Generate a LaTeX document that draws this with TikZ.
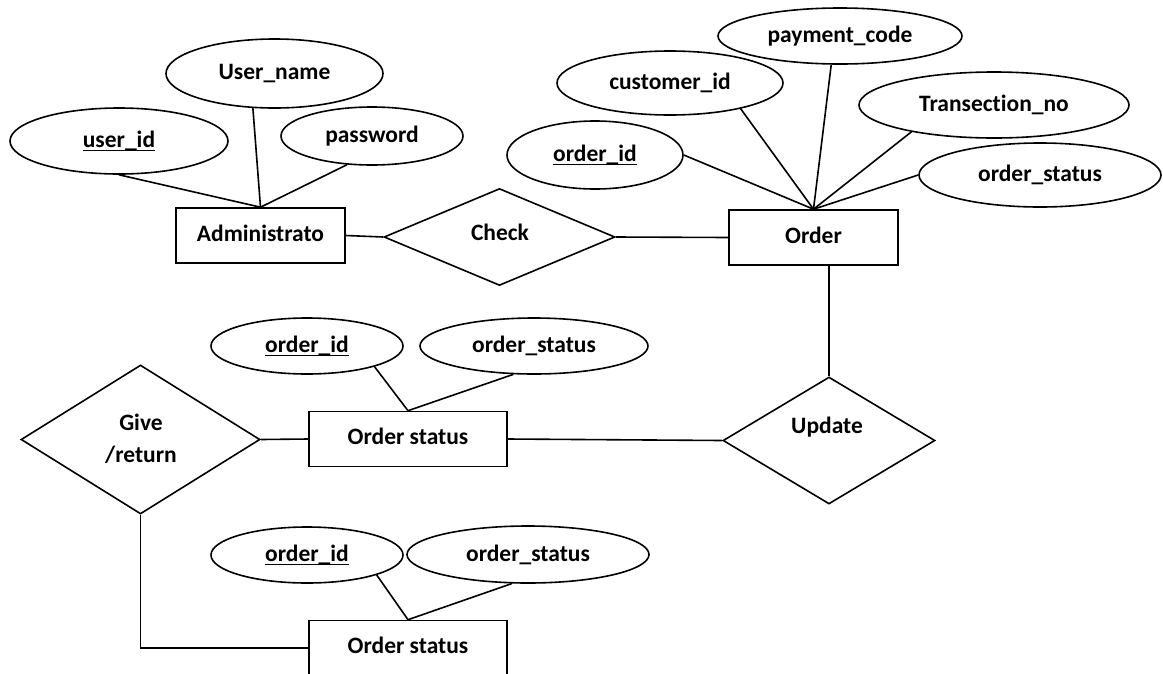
\documentclass[tikz,border=0pt]{standalone}
\usepackage{fontspec}
\setmainfont{Carlito}[Ligatures=NoCommon]
\usetikzlibrary{shapes.geometric}
% key attribute: text with a thick underline
\newcommand\keyattr[1]{\setbox0\hbox{#1}\rlap{\rule[-4pt]{\wd0}{1.5pt}}\box0}
\tikzset{
  lw/.style={line width=1.6pt},
  txt/.style={font=\fontsize{23.5}{32}\selectfont\bfseries, inner sep=0pt, align=center},
  entity/.style={draw, lw, rectangle, minimum width=#1, minimum height=55pt, inner sep=0pt, txt,
                 text height=16pt, text depth=5pt},
  attr/.style 2 args={draw, lw, ellipse, minimum width=#1, minimum height=#2, inner sep=0pt, txt},
  rel/.style 2 args={draw, lw, diamond, minimum width=#1, minimum height=#2, inner sep=0pt},
  link/.style={lw}
}
\begin{document}
\begin{tikzpicture}[x=1pt,y=-1pt]
\useasboundingbox (0,0) rectangle (1163,673);
\fill[white] (0,0) rectangle (1163,673);

% entities
\node[entity=169pt] (admin) at (260.5,235.5) {Administrato};
\node[entity=169pt] (order) at (813.5,237.5) {Order};
\node[entity=198pt] (os1) at (408,439) {Order status};
\node[entity=198pt] (os2) at (408,648) {Order status};

% relationships
\node[rel={231pt}{97pt}] (check) at (499.5,237) {};
\node[txt] (checkT) at (500,232) {Check};
\node[rel={212pt}{127pt}] (update) at (829,440.5) {};
\node[txt] (updateT) at (827,427) {Update};
\node[rel={239pt}{149pt}] (give) at (140.5,439.5) {};
\node[txt] (giveT) at (141,439) {Give\\/return};

% attributes of Administrato
\node[attr={218pt}{66pt}] (userid) at (119,141) {\keyattr{user\_id}};
\node[attr={217pt}{69pt}] (username) at (274.5,73.5) {User\_name};
\node[attr={182pt}{58pt}] (password) at (372,136) {password};

% attributes of Order
\node[attr={176pt}{68pt}] (orderid1) at (595,155) {\keyattr{order\_id}};
\node[attr={226pt}{64pt}] (custid) at (670,83) {customer\_id};
\node[attr={244pt}{56pt}] (paycode) at (840,36) {payment\_code};
\node[attr={270pt}{66pt}] (transno) at (994,105) {Transection\_no};
\node[attr={242pt}{64pt}] (ostatus1) at (1040,175) {order\_status};

% attributes of the first Order status
\node[attr={192pt}{56pt}] (orderid2) at (307,346) {\keyattr{order\_id}};
\node[attr={228pt}{56pt}] (ostatus2) at (534,346) {order\_status};

% attributes of the second Order status
\node[attr={192pt}{56pt}] (orderid3) at (307,555) {\keyattr{order\_id}};
\node[attr={242pt}{57pt}] (ostatus3) at (528,554.5) {order\_status};

% attribute links
\draw[link] (userid.south) -- (admin.north);
\draw[link] (username.-122) -- (admin.north);
\draw[link] (password.-131) -- (admin.north);

\draw[link] (orderid1.east) -- (order.north);
\draw[link] (custid.-20) -- (order.north);
\draw[link] (paycode.-107) -- (order.north);
\draw[link] (transno.-162) -- (order.north);
\draw[link] (ostatus1.west) -- (order.north);

\draw[link] (orderid2.-17) -- (os1.north);
\draw[link] (ostatus2.-126) -- (os1.north);
\draw[link] (orderid3.-16) -- (os2.north);
\draw[link] (ostatus3.-119) -- (os2.north);

% relationship links
\draw[link] (admin.east) -- (check.west);
\draw[link] (check.east) -- (order.west);
\draw[link] (update.north) -- (update.north |- order.south);
\draw[link] (os1.east) -- (update.west);
\draw[link] (give.east) -- (os1.west);
\draw[link] (give.south) -- (give.south |- os2.west) -- (os2.west);
\end{tikzpicture}
\end{document}
